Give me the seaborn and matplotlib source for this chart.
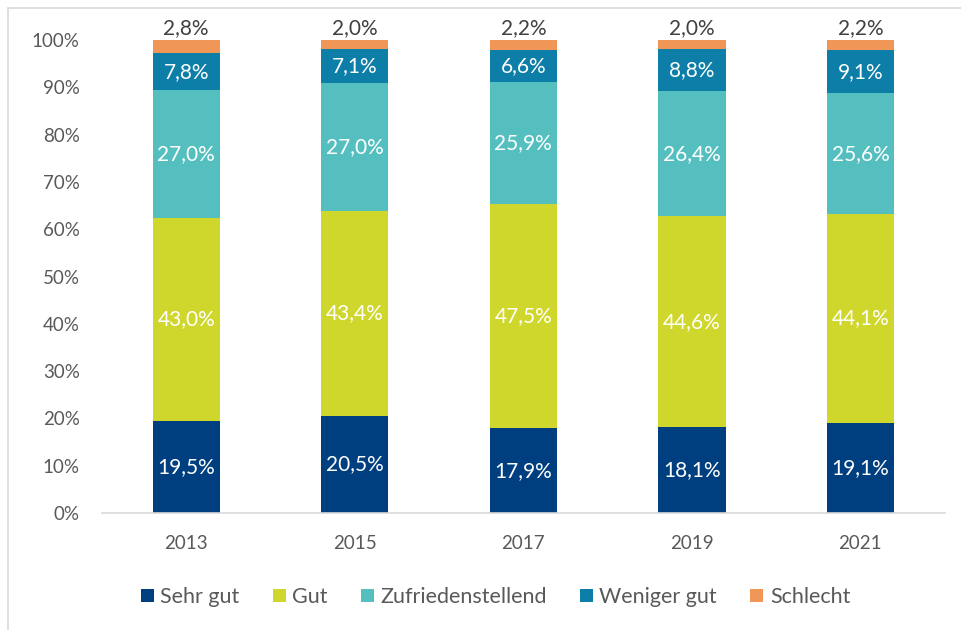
import matplotlib
matplotlib.use("Agg")
import matplotlib.pyplot as plt
import seaborn as sns
import numpy as np
import pandas as pd
from matplotlib.lines import Line2D
from matplotlib.patches import Patch

years = ["2013", "2015", "2017", "2019", "2021"]
categories = ["Sehr gut", "Gut", "Zufriedenstellend", "Weniger gut", "Schlecht"]
sehr_gut = [19.5, 20.5, 17.9, 18.1, 19.1]
gut = [43.0, 43.4, 47.5, 44.6, 44.1]
zufrieden = [27.0, 27.0, 25.9, 26.4, 25.6]
weniger_gut = [7.8, 7.1, 6.6, 8.8, 9.1]
schlecht = [2.8, 2.0, 2.2, 2.0, 2.2]
colors = ["#003F7F", "#CFD72D", "#55BFC0", "#0D7EA8", "#F09656"]

series = [sehr_gut, gut, zufrieden, weniger_gut, schlecht]

sns.set_style("white")
plt.rcParams["font.family"] = ["Lato", "DejaVu Sans"]

fig = plt.figure(figsize=(9.62, 6.30), dpi=100)
ax = fig.add_axes([0.106, 0.1857, 0.876, 0.7508])

vals = np.array(series)
totals = vals.sum(axis=0)
norm = vals / totals * 100
bottom = np.zeros(len(years))
for i, (cat, col) in enumerate(zip(categories, colors)):
    df = pd.DataFrame({"year": years, "value": norm[i]})
    sns.barplot(data=df, x="year", y="value", color=col, width=0.40,
                bottom=bottom, ax=ax, saturation=1, linewidth=0)
    for j in range(len(years)):
        label = f"{vals[i][j]:.1f}%".replace(".", ",")
        if i == len(categories) - 1:
            ax.text(j, 100 + 0.3, label, ha="center", va="bottom",
                    fontsize=15, color="#404040")
        else:
            ax.text(j, bottom[j] + norm[i][j] / 2, label, ha="center",
                    va="center", fontsize=15, color="white")
    bottom = bottom + norm[i]

ax.set_xlim(-0.5, 4.5)
ax.set_ylim(0, 100)
ax.set_yticks(range(0, 101, 10))
ax.set_yticklabels([f"{v}%" for v in range(0, 101, 10)])
ax.tick_params(axis="both", labelsize=13.5, colors="#595959", length=0)
ax.tick_params(axis="y", pad=16)
ax.tick_params(axis="x", pad=16)
ax.set_xlabel("")
ax.set_ylabel("")
for s in ["top", "right", "left"]:
    ax.spines[s].set_visible(False)
ax.spines["bottom"].set_color("#D9D9D9")
ax.spines["bottom"].set_linewidth(1.2)

handles = [Patch(facecolor=c, edgecolor="none") for c in colors]
fig.legend(handles, categories, loc="center", bbox_to_anchor=(0.515, 0.052),
           ncol=5, frameon=False, fontsize=15.5, handlelength=0.6,
           handleheight=0.6, handletextpad=0.3, columnspacing=1.55,
           labelcolor="#595959")

fig.add_artist(Line2D([8/962, 8/962], [0, 1 - 8/630], transform=fig.transFigure,
                      color="#D9D9D9", linewidth=1.2))
fig.add_artist(Line2D([8/962, 1], [1 - 8/630, 1 - 8/630], transform=fig.transFigure,
                      color="#D9D9D9", linewidth=1.2))

fig.savefig("out.png", dpi=100)
